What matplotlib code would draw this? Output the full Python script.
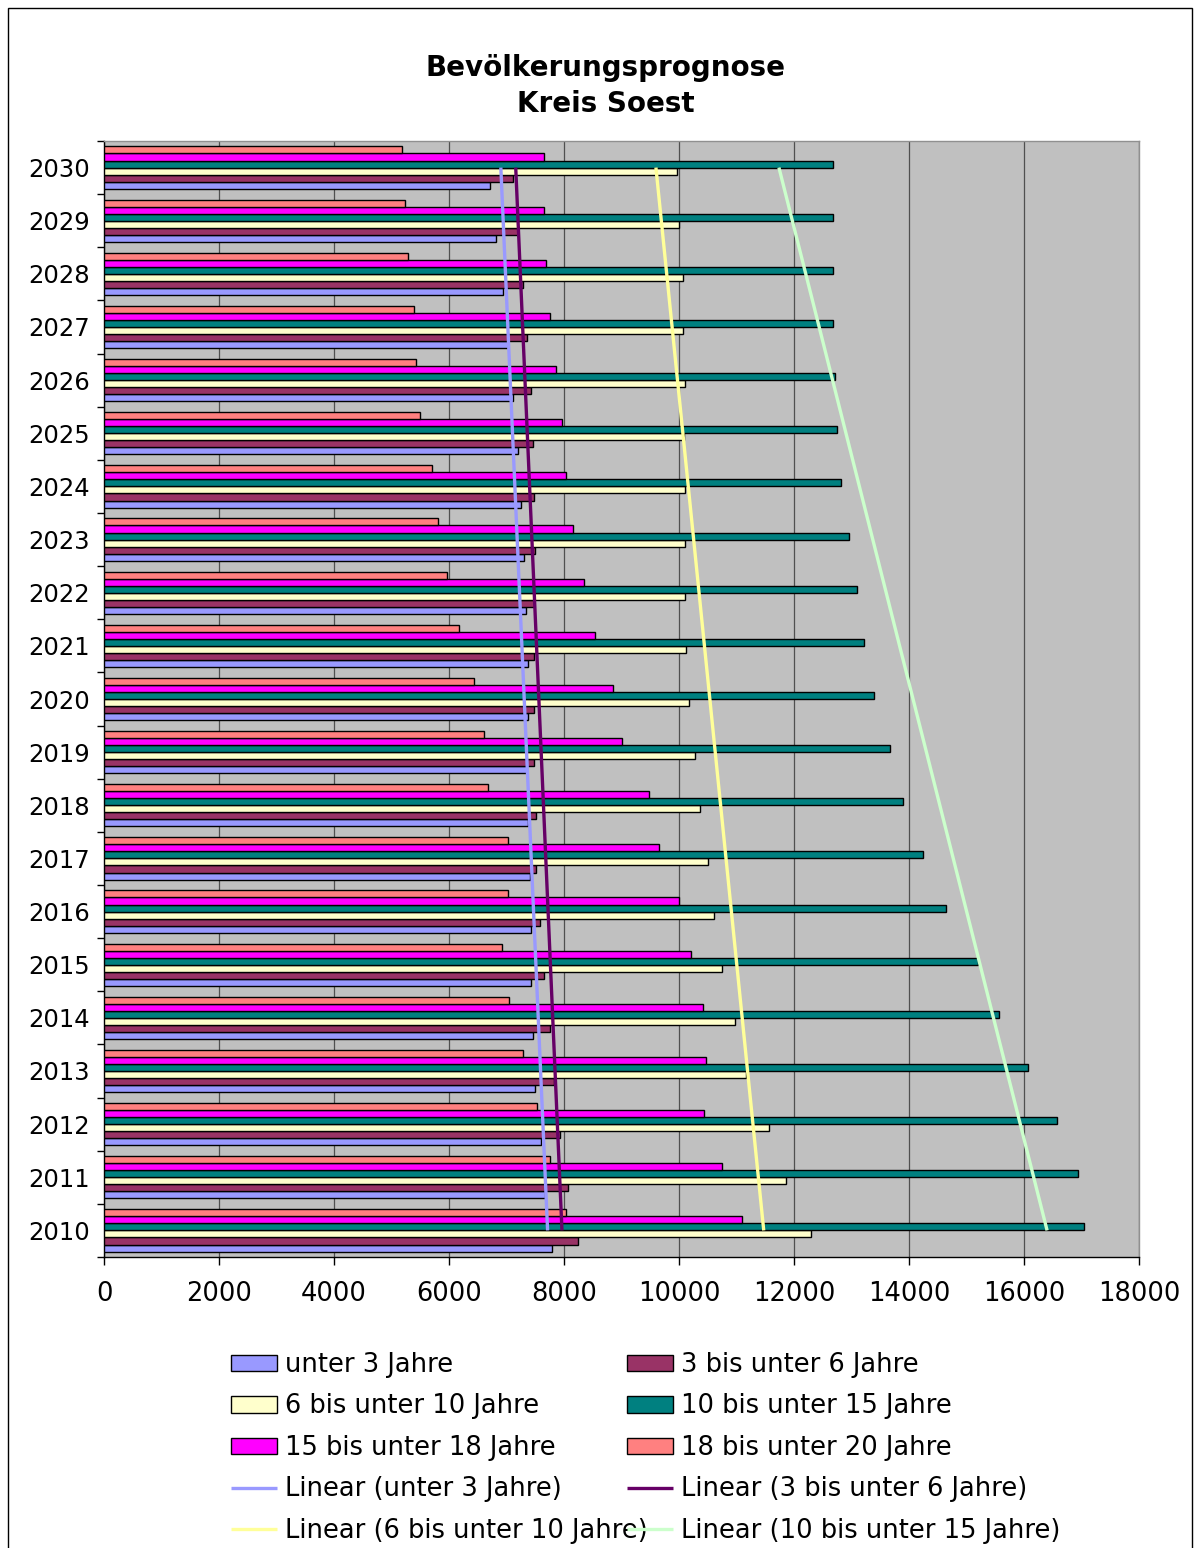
import numpy as np
import matplotlib
matplotlib.use("Agg")
import matplotlib.pyplot as plt
from matplotlib.patches import Rectangle

plt.rcParams['font.family'] = ['DejaVu Sans']

years = [str(y) for y in range(2010, 2031)]

unter_3 = [7795, 7675, 7595, 7495, 7455, 7425, 7425, 7415, 7375, 7355, 7375,
           7375, 7345, 7305, 7245, 7205, 7116, 7026, 6946, 6816, 6707]
bis_6 = [8235, 8065, 7925, 7825, 7755, 7655, 7585, 7515, 7515, 7485, 7485,
         7485, 7475, 7495, 7485, 7455, 7425, 7355, 7285, 7205, 7105]
bis_10 = [12300, 11860, 11560, 11170, 10980, 10740, 10610, 10510, 10370, 10270, 10170,
          10130, 10100, 10100, 10100, 10080, 10100, 10070, 10070, 10000, 9970]
bis_15 = [17050, 16944, 16571, 16068, 15559, 15193, 14646, 14236, 13894, 13665, 13391,
          13224, 13087, 12950, 12820, 12745, 12714, 12677, 12677, 12677, 12677]
bis_18 = [11090, 10740, 10440, 10470, 10410, 10210, 10000, 9655, 9485, 9015, 8855,
          8535, 8345, 8165, 8035, 7965, 7865, 7765, 7695, 7655, 7655]
bis_20 = [8035, 7755, 7525, 7285, 7050, 6920, 7020, 7020, 6680, 6610, 6440,
          6170, 5970, 5800, 5700, 5490, 5430, 5390, 5290, 5230, 5190]

series_names = ["unter 3 Jahre", "3 bis unter 6 Jahre", "6 bis unter 10 Jahre",
                "10 bis unter 15 Jahre", "15 bis unter 18 Jahre", "18 bis unter 20 Jahre"]
series_values = [unter_3, bis_6, bis_10, bis_15, bis_18, bis_20]
bar_colors = ["#9999FF", "#993366", "#FFFFCC", "#008080", "#FF00FF", "#FF8080"]
trend_colors = ["#9999FF", "#660066", "#FFFF99", "#CCFFCC"]

fig = plt.figure(figsize=(11.96, 15.48), dpi=100)
ax = fig.add_axes([104 / 1196, 1 - 1257 / 1548, (1139 - 104) / 1196, (1257 - 141) / 1548])
ax.set_facecolor("#C0C0C0")

idx = np.arange(len(years))
h = 0.133
bar_handles = []
for i, (vals, col, name) in enumerate(zip(series_values, bar_colors, series_names)):
    b = ax.barh(idx + (i - 2.5) * h, vals, height=h, color=col,
                edgecolor="black", linewidth=1.0, zorder=3, label=name)
    bar_handles.append(b)

# Least-squares linear trend for the four youngest age groups
trend_handles = []
for vals, col, name in zip(series_values[:4], trend_colors, series_names[:4]):
    k, d = np.polyfit(idx, vals, 1)
    ends = [k * idx[0] + d, k * idx[-1] + d]
    ln, = ax.plot(ends, [idx[0], idx[-1]], color=col, linewidth=2.4, zorder=5,
                  solid_capstyle="butt", label=f"Linear ({name})")
    trend_handles.append(ln)

ax.set_xlim(0, 18000)
ax.set_ylim(-0.5, len(years) - 0.5)
ax.set_xticks(np.arange(0, 18001, 2000))
ax.set_xticklabels([str(v) for v in range(0, 18001, 2000)], fontsize=18.5)
ax.xaxis.grid(True, color="#505050", linewidth=0.9, zorder=1)
ax.set_axisbelow(True)

ax.set_yticks(np.arange(-0.5, len(years)), labels=[])
ax.set_yticks(idx, labels=years, minor=True)
ax.tick_params(axis="y", which="minor", length=0, pad=10, labelsize=17.5)
ax.tick_params(axis="y", which="major", length=5, width=1, color="black")
ax.tick_params(axis="x", which="major", length=6, width=1, pad=11)

for s in ("left", "bottom"):
    ax.spines[s].set_color("black")
    ax.spines[s].set_linewidth(1.0)
for s in ("top", "right"):
    ax.spines[s].set_color("#909090")
    ax.spines[s].set_linewidth(1.0)

fig.text(606 / 1196, 1 - 86 / 1548, "Bevölkerungsprognose\nKreis Soest",
         ha="center", va="center", fontsize=20, fontweight="bold", linespacing=1.35)

# Two legend columns, filled row by row
left_items = [bar_handles[0], bar_handles[2], bar_handles[4], trend_handles[0], trend_handles[2]]
right_items = [bar_handles[1], bar_handles[3], bar_handles[5], trend_handles[1], trend_handles[3]]
common = dict(frameon=False, fontsize=18.5, handlelength=1.8, handleheight=0.6,
              handletextpad=0.3, labelspacing=0.6, borderpad=0, borderaxespad=0,
              loc="upper left")
fig.legend(left_items, [hd.get_label() for hd in left_items],
           bbox_to_anchor=(231 / 1196, 1 - 1352 / 1548), **common)
fig.legend(right_items, [hd.get_label() for hd in right_items],
           bbox_to_anchor=(627 / 1196, 1 - 1352 / 1548), **common)

fig.patches.append(Rectangle((8 / 1196, -0.05), (1192 - 8) / 1196, 1.05 - 8 / 1548,
                             transform=fig.transFigure, fill=False,
                             edgecolor="black", linewidth=1.0))

fig.savefig("out.png", dpi=100)
